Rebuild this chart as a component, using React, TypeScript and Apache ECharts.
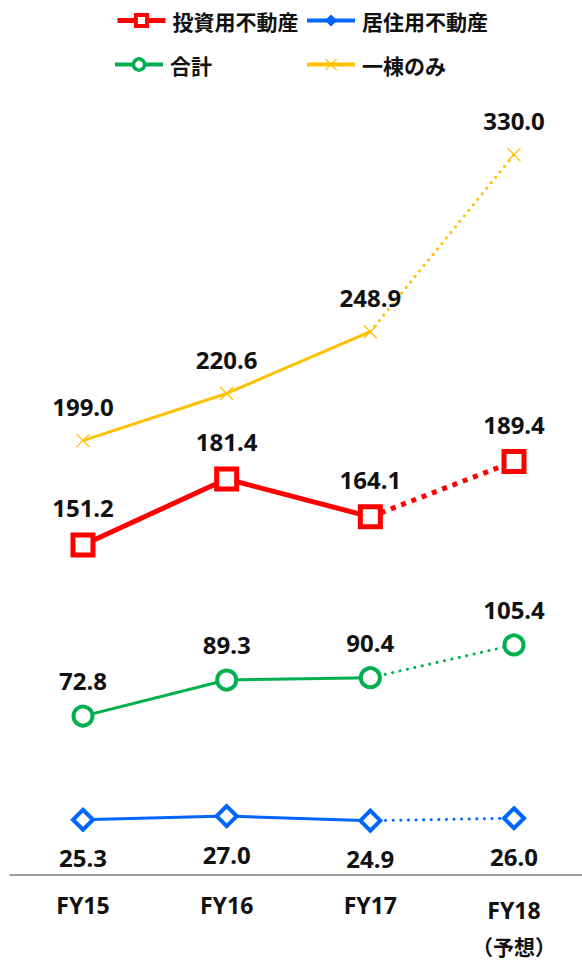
import React, { useEffect, useRef } from "react";
import * as echarts from "echarts";

const categories = ["FY15", "FY16", "FY17", "FY18"];
const forecastNote = "（予想）";
const investment = [151.2, 181.4, 164.1, 189.4];
const residential = [25.3, 27.0, 24.9, 26.0];
const total = [72.8, 89.3, 90.4, 105.4];
const wholeBuilding = [199.0, 220.6, 248.9, 330.0];
const names = ["投資用不動産", "居住用不動産", "合計", "一棟のみ"];

const RED = "#FF0000";
const BLUE = "#0066FF";
const GREEN = "#00B050";
const YELLOW = "#FFC000";

const labelBase = {
  show: true,
  fontFamily: "Noto Sans",
  fontWeight: "bold" as const,
  fontSize: 24,
  color: "#111111",
  formatter: (p: any) => Number(p.value).toFixed(1),
};

function solidData(arr: number[]) {
  return arr.map((v, i) => (i < 3 ? v : null));
}
function dottedData(arr: number[]) {
  return arr.map((v, i) =>
    i < 2 ? null : i === 2 ? { value: v, symbol: "none", label: { show: false } } : v
  );
}

export default function App() {
  const ref = useRef<HTMLDivElement>(null);
  useEffect(() => {
    if (!ref.current) return;
    const chart = echarts.init(ref.current, undefined, { renderer: "svg" });

    const specs = [
      {
        name: names[0], data: investment, color: RED, width: 5, symbol: "rect", size: 20, bw: 5,
        dash: [5, 6], cap: "butt", pos: "top", dist: 13,
      },
      {
        name: names[1], data: residential, color: BLUE, width: 3, symbol: "diamond", size: 20, bw: 4,
        dash: [0.1, 7.5], cap: "round", pos: "bottom", dist: 14,
      },
      {
        name: names[2], data: total, color: GREEN, width: 3, symbol: "circle", size: 19, bw: 4,
        dash: [0.1, 7.5], cap: "round", pos: "top", dist: 12,
      },
      {
        name: names[3], data: wholeBuilding, color: YELLOW, width: 3,
        symbol: "path://M0,0L10,10M10,0L0,10", size: 13, bw: 1.3,
        dash: [0.1, 7], cap: "round", pos: "top", dist: 15,
      },
    ];

    const solidSeries: any[] = [];
    const dottedSeries: any[] = [];
    specs.forEach((s) => {
      const common = {
        type: "line",
        name: s.name,
        xAxisIndex: 0,
        yAxisIndex: 0,
        symbol: s.symbol,
        symbolSize: s.size,
        itemStyle: {
          color: s.symbol.startsWith("path") ? s.color : "#FFFFFF",
          borderColor: s.color,
          borderWidth: s.bw,
        },
        label: { ...labelBase, position: s.pos, distance: s.dist },
        emphasis: { disabled: true },
      };
      solidSeries.push({
        ...common,
        data: solidData(s.data),
        z: 3,
        lineStyle: { color: s.color, width: s.width, type: "solid" },
      });
      dottedSeries.push({
        ...common,
        data: dottedData(s.data),
        z: 2,
        lineStyle: { color: s.color, width: s.width, type: s.dash, cap: s.cap },
      });
    });

    const legendBase = {
      itemWidth: 48,
      itemHeight: 14,
      textStyle: {
        fontFamily: "Noto Sans CJK JP",
        fontSize: 21,
        fontWeight: "bold" as const,
        color: "#111111",
        padding: [0, 0, 0, 2],
      },
      selectedMode: false,
    };

    const legendItems = [
      { name: names[0], lineStyle: { width: 5, color: RED }, itemStyle: { color: "#FFFFFF", borderColor: RED, borderWidth: 4 } },
      { name: names[1], lineStyle: { width: 4, color: BLUE }, itemStyle: { color: BLUE, borderColor: BLUE, borderWidth: 1 } },
      { name: names[2], lineStyle: { width: 4, color: GREEN }, itemStyle: { color: "#FFFFFF", borderColor: GREEN, borderWidth: 3.5 } },
      { name: names[3], lineStyle: { width: 4, color: YELLOW }, itemStyle: { color: YELLOW, borderColor: YELLOW, borderWidth: 1.3 } },
    ];

    chart.setOption({
      animation: false,
      backgroundColor: "#FFFFFF",
      legend: [
        { ...legendBase, data: [legendItems[0]], left: 110, top: 5 },
        { ...legendBase, data: [legendItems[1]], left: 300, top: 5 },
        { ...legendBase, data: [legendItems[2]], left: 108, top: 49 },
        { ...legendBase, data: [legendItems[3]], left: 300, top: 49 },
      ],
      grid: [
        { left: 83, top: 111, width: 431, height: 764, containLabel: false },
        { left: 10, top: 111, right: 0, height: 764, containLabel: false },
      ],
      xAxis: [
        {
          type: "category",
          gridIndex: 0,
          data: categories,
          boundaryGap: false,
          axisLine: { show: false },
          axisTick: { show: false },
          axisLabel: {
            margin: 18,
            interval: 0,
            formatter: (v: string, i: number) =>
              i === 3 ? `{f|${v}}\n{n|${forecastNote}}` : `{a|${v}}`,
            rich: {
              a: { fontFamily: "Noto Sans", fontWeight: "bold", fontSize: 23, color: "#111111", lineHeight: 24 },
              f: { fontFamily: "Noto Sans", fontWeight: "bold", fontSize: 23, color: "#111111", lineHeight: 34 },
              n: { fontFamily: "Noto Sans CJK JP", fontWeight: "bold", fontSize: 21, color: "#111111", lineHeight: 38 },
            },
          },
        },
        {
          type: "category",
          gridIndex: 1,
          data: categories,
          axisLine: { show: true, lineStyle: { color: "#808080", width: 1.5 } },
          axisTick: { show: false },
          axisLabel: { show: false },
        },
      ],
      yAxis: [
        { type: "value", gridIndex: 0, min: 0, max: 350, show: false, splitLine: { show: false } },
        { type: "value", gridIndex: 1, min: 0, max: 350, show: false, splitLine: { show: false } },
      ],
      series: [...solidSeries, ...dottedSeries],
    });

    return () => chart.dispose();
  }, []);

  return (
    <div
      ref={ref}
      style={{ position: "fixed", left: 0, top: 0, width: 582, height: 963, background: "#fff" }}
    />
  );
}
